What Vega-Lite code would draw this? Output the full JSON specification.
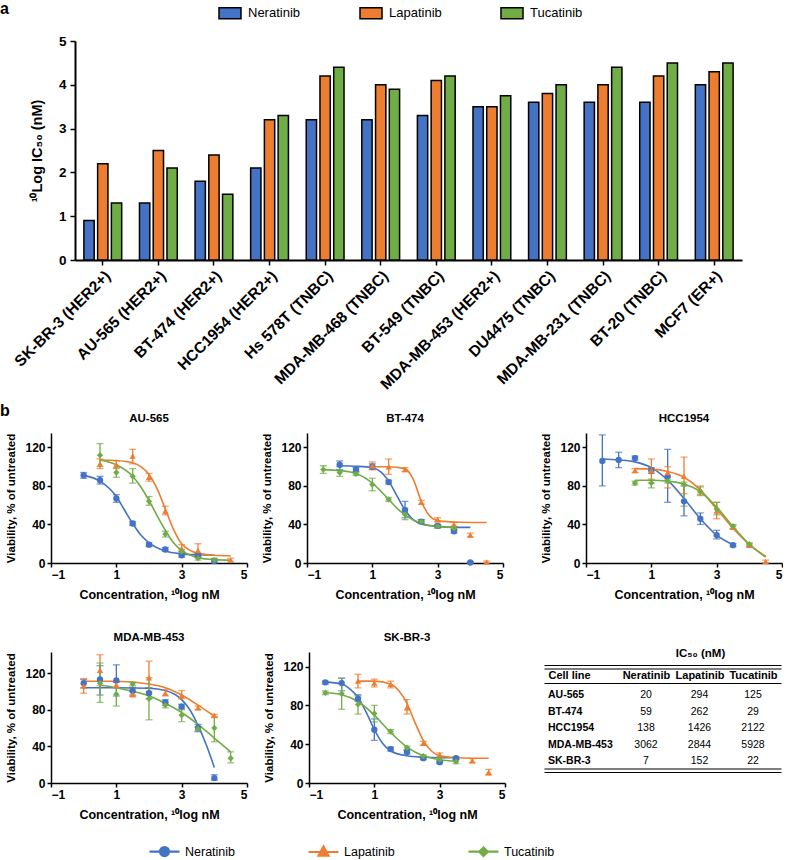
{
"$schema": "https://vega.github.io/schema/vega-lite/v6.json",
"background": "white",
"padding": {"left": 0, "top": 1, "right": 0, "bottom": 0},
"config": {
  "font": "Liberation Sans",
  "view": {"stroke": null},
  "title": {"fontSize": 11.5, "fontWeight": "bold", "color": "black", "offset": 9},
  "axis": {"grid": false, "domainColor": "black", "domainWidth": 1.5, "tickColor": "black", "tickWidth": 1.5, "tickSize": 4, "labelColor": "black", "labelFontWeight": "bold", "labelFontSize": 12, "labelPadding": 2, "titleColor": "black", "titleFontWeight": "bold", "titleFontSize": 12.5, "titlePadding": 8},
  "legend": {"labelColor": "black", "labelFont": "Liberation Sans"}
},
"datasets": {
  "bars": [
    {"cell":"SK-BR-3 (HER2+)","drug":"Neratinib","v":0.9},{"cell":"SK-BR-3 (HER2+)","drug":"Lapatinib","v":2.2},{"cell":"SK-BR-3 (HER2+)","drug":"Tucatinib","v":1.3},
    {"cell":"AU-565 (HER2+)","drug":"Neratinib","v":1.3},{"cell":"AU-565 (HER2+)","drug":"Lapatinib","v":2.5},{"cell":"AU-565 (HER2+)","drug":"Tucatinib","v":2.1},
    {"cell":"BT-474 (HER2+)","drug":"Neratinib","v":1.8},{"cell":"BT-474 (HER2+)","drug":"Lapatinib","v":2.4},{"cell":"BT-474 (HER2+)","drug":"Tucatinib","v":1.5},
    {"cell":"HCC1954 (HER2+)","drug":"Neratinib","v":2.1},{"cell":"HCC1954 (HER2+)","drug":"Lapatinib","v":3.2},{"cell":"HCC1954 (HER2+)","drug":"Tucatinib","v":3.3},
    {"cell":"Hs 578T (TNBC)","drug":"Neratinib","v":3.2},{"cell":"Hs 578T (TNBC)","drug":"Lapatinib","v":4.2},{"cell":"Hs 578T (TNBC)","drug":"Tucatinib","v":4.4},
    {"cell":"MDA-MB-468 (TNBC)","drug":"Neratinib","v":3.2},{"cell":"MDA-MB-468 (TNBC)","drug":"Lapatinib","v":4.0},{"cell":"MDA-MB-468 (TNBC)","drug":"Tucatinib","v":3.9},
    {"cell":"BT-549 (TNBC)","drug":"Neratinib","v":3.3},{"cell":"BT-549 (TNBC)","drug":"Lapatinib","v":4.1},{"cell":"BT-549 (TNBC)","drug":"Tucatinib","v":4.2},
    {"cell":"MDA-MB-453 (HER2+)","drug":"Neratinib","v":3.5},{"cell":"MDA-MB-453 (HER2+)","drug":"Lapatinib","v":3.5},{"cell":"MDA-MB-453 (HER2+)","drug":"Tucatinib","v":3.75},
    {"cell":"DU4475 (TNBC)","drug":"Neratinib","v":3.6},{"cell":"DU4475 (TNBC)","drug":"Lapatinib","v":3.8},{"cell":"DU4475 (TNBC)","drug":"Tucatinib","v":4.0},
    {"cell":"MDA-MB-231 (TNBC)","drug":"Neratinib","v":3.6},{"cell":"MDA-MB-231 (TNBC)","drug":"Lapatinib","v":4.0},{"cell":"MDA-MB-231 (TNBC)","drug":"Tucatinib","v":4.4},
    {"cell":"BT-20 (TNBC)","drug":"Neratinib","v":3.6},{"cell":"BT-20 (TNBC)","drug":"Lapatinib","v":4.2},{"cell":"BT-20 (TNBC)","drug":"Tucatinib","v":4.5},
    {"cell":"MCF7 (ER+)","drug":"Neratinib","v":4.0},{"cell":"MCF7 (ER+)","drug":"Lapatinib","v":4.3},{"cell":"MCF7 (ER+)","drug":"Tucatinib","v":4.5}
  ],
  "dr": [
    {"c":"AU-565","d":"Neratinib","x":0,"y":91,"lo":88,"hi":94},{"c":"AU-565","d":"Neratinib","x":0.5,"y":86,"lo":82,"hi":90},{"c":"AU-565","d":"Neratinib","x":1,"y":67,"lo":63,"hi":71},{"c":"AU-565","d":"Neratinib","x":1.5,"y":41,"lo":39,"hi":43},{"c":"AU-565","d":"Neratinib","x":2,"y":19,"lo":17,"hi":21},{"c":"AU-565","d":"Neratinib","x":2.5,"y":14,"lo":12,"hi":16},{"c":"AU-565","d":"Neratinib","x":3,"y":8,"lo":6,"hi":10},{"c":"AU-565","d":"Neratinib","x":3.5,"y":8,"lo":6,"hi":10},{"c":"AU-565","d":"Neratinib","x":4,"y":2,"lo":0,"hi":4},
    {"c":"AU-565","d":"Lapatinib","x":0.5,"y":103,"lo":98,"hi":108},{"c":"AU-565","d":"Lapatinib","x":1,"y":102,"lo":98,"hi":106},{"c":"AU-565","d":"Lapatinib","x":1.5,"y":111,"lo":103,"hi":118},{"c":"AU-565","d":"Lapatinib","x":2,"y":89,"lo":85,"hi":93},{"c":"AU-565","d":"Lapatinib","x":2.5,"y":54,"lo":50,"hi":59},{"c":"AU-565","d":"Lapatinib","x":3,"y":15,"lo":12,"hi":19},{"c":"AU-565","d":"Lapatinib","x":3.5,"y":13,"lo":8,"hi":20},{"c":"AU-565","d":"Lapatinib","x":4.5,"y":3,"lo":1,"hi":5},
    {"c":"AU-565","d":"Tucatinib","x":0.5,"y":112,"lo":100,"hi":124},{"c":"AU-565","d":"Tucatinib","x":1,"y":94,"lo":89,"hi":99},{"c":"AU-565","d":"Tucatinib","x":1.5,"y":90,"lo":83,"hi":98},{"c":"AU-565","d":"Tucatinib","x":2,"y":64,"lo":60,"hi":69},{"c":"AU-565","d":"Tucatinib","x":2.5,"y":30,"lo":27,"hi":33},{"c":"AU-565","d":"Tucatinib","x":3,"y":12,"lo":10,"hi":14},{"c":"AU-565","d":"Tucatinib","x":3.5,"y":5,"lo":3,"hi":7},{"c":"AU-565","d":"Tucatinib","x":4,"y":3,"lo":1,"hi":5},
    {"c":"BT-474","d":"Neratinib","x":0,"y":102,"lo":97,"hi":106},{"c":"BT-474","d":"Neratinib","x":0.5,"y":97,"lo":95,"hi":99},{"c":"BT-474","d":"Neratinib","x":1,"y":100,"lo":97,"hi":103},{"c":"BT-474","d":"Neratinib","x":1.5,"y":84,"lo":82,"hi":86},{"c":"BT-474","d":"Neratinib","x":2,"y":55,"lo":47,"hi":64},{"c":"BT-474","d":"Neratinib","x":2.5,"y":43,"lo":41,"hi":45},{"c":"BT-474","d":"Neratinib","x":3,"y":38.5,"lo":37,"hi":40},{"c":"BT-474","d":"Neratinib","x":3.5,"y":33,"lo":31,"hi":35},{"c":"BT-474","d":"Neratinib","x":4,"y":0.5,"lo":0,"hi":1.5},
    {"c":"BT-474","d":"Lapatinib","x":1,"y":101,"lo":97,"hi":105},{"c":"BT-474","d":"Lapatinib","x":1.5,"y":100,"lo":92,"hi":108},{"c":"BT-474","d":"Lapatinib","x":2,"y":97,"lo":95,"hi":99},{"c":"BT-474","d":"Lapatinib","x":2.5,"y":63,"lo":61,"hi":65},{"c":"BT-474","d":"Lapatinib","x":3,"y":45,"lo":43,"hi":47},{"c":"BT-474","d":"Lapatinib","x":3.5,"y":40,"lo":38,"hi":42},{"c":"BT-474","d":"Lapatinib","x":4,"y":29,"lo":27,"hi":31},{"c":"BT-474","d":"Lapatinib","x":4.5,"y":1,"lo":0,"hi":2},
    {"c":"BT-474","d":"Tucatinib","x":-0.5,"y":97,"lo":93,"hi":101},{"c":"BT-474","d":"Tucatinib","x":0,"y":94,"lo":90,"hi":100},{"c":"BT-474","d":"Tucatinib","x":0.5,"y":92.5,"lo":91,"hi":94},{"c":"BT-474","d":"Tucatinib","x":1,"y":81.5,"lo":75,"hi":88},{"c":"BT-474","d":"Tucatinib","x":1.5,"y":66,"lo":64,"hi":68},{"c":"BT-474","d":"Tucatinib","x":2,"y":50.5,"lo":45,"hi":57},{"c":"BT-474","d":"Tucatinib","x":2.5,"y":43,"lo":41,"hi":45},{"c":"BT-474","d":"Tucatinib","x":3,"y":38,"lo":36,"hi":40},{"c":"BT-474","d":"Tucatinib","x":3.5,"y":36,"lo":34,"hi":38},
    {"c":"HCC1954","d":"Neratinib","x":-0.5,"y":106,"lo":80,"hi":133},{"c":"HCC1954","d":"Neratinib","x":0,"y":107,"lo":99,"hi":115},{"c":"HCC1954","d":"Neratinib","x":0.5,"y":109,"lo":107,"hi":111},{"c":"HCC1954","d":"Neratinib","x":1,"y":96,"lo":93,"hi":99},{"c":"HCC1954","d":"Neratinib","x":1.5,"y":90,"lo":63,"hi":118},{"c":"HCC1954","d":"Neratinib","x":2,"y":64,"lo":49,"hi":80},{"c":"HCC1954","d":"Neratinib","x":2.5,"y":46,"lo":40,"hi":52},{"c":"HCC1954","d":"Neratinib","x":3,"y":29,"lo":25,"hi":34},{"c":"HCC1954","d":"Neratinib","x":3.5,"y":18.5,"lo":17,"hi":20},
    {"c":"HCC1954","d":"Lapatinib","x":0.5,"y":96,"lo":94,"hi":98},{"c":"HCC1954","d":"Lapatinib","x":1,"y":96,"lo":83,"hi":108},{"c":"HCC1954","d":"Lapatinib","x":1.5,"y":94,"lo":78,"hi":100},{"c":"HCC1954","d":"Lapatinib","x":2,"y":90,"lo":72,"hi":110},{"c":"HCC1954","d":"Lapatinib","x":2.5,"y":75,"lo":71,"hi":80},{"c":"HCC1954","d":"Lapatinib","x":3,"y":54,"lo":46,"hi":63},{"c":"HCC1954","d":"Lapatinib","x":3.5,"y":37,"lo":35,"hi":39},{"c":"HCC1954","d":"Lapatinib","x":4,"y":18.5,"lo":17,"hi":20},{"c":"HCC1954","d":"Lapatinib","x":4.5,"y":1.5,"lo":0,"hi":3},
    {"c":"HCC1954","d":"Tucatinib","x":0.5,"y":83,"lo":81,"hi":85},{"c":"HCC1954","d":"Tucatinib","x":1,"y":83,"lo":78,"hi":87},{"c":"HCC1954","d":"Tucatinib","x":1.5,"y":85,"lo":83,"hi":87},{"c":"HCC1954","d":"Tucatinib","x":2,"y":81.5,"lo":59,"hi":84},{"c":"HCC1954","d":"Tucatinib","x":2.5,"y":74.6,"lo":70,"hi":79},{"c":"HCC1954","d":"Tucatinib","x":3,"y":56,"lo":50,"hi":63},{"c":"HCC1954","d":"Tucatinib","x":3.5,"y":38,"lo":36,"hi":40},{"c":"HCC1954","d":"Tucatinib","x":4,"y":19.6,"lo":18,"hi":21},
    {"c":"MDA-MB-453","d":"Neratinib","x":0,"y":109,"lo":104,"hi":113},{"c":"MDA-MB-453","d":"Neratinib","x":0.5,"y":113,"lo":96,"hi":128},{"c":"MDA-MB-453","d":"Neratinib","x":1,"y":112,"lo":95,"hi":129},{"c":"MDA-MB-453","d":"Neratinib","x":1.5,"y":100.5,"lo":96,"hi":104},{"c":"MDA-MB-453","d":"Neratinib","x":2,"y":98,"lo":92,"hi":104},{"c":"MDA-MB-453","d":"Neratinib","x":2.5,"y":88,"lo":85,"hi":91},{"c":"MDA-MB-453","d":"Neratinib","x":3,"y":83.4,"lo":81,"hi":86},{"c":"MDA-MB-453","d":"Neratinib","x":3.5,"y":60,"lo":56,"hi":64},{"c":"MDA-MB-453","d":"Neratinib","x":4,"y":5.4,"lo":3,"hi":9},
    {"c":"MDA-MB-453","d":"Lapatinib","x":0,"y":106,"lo":98,"hi":114},{"c":"MDA-MB-453","d":"Lapatinib","x":0.5,"y":123,"lo":106,"hi":140},{"c":"MDA-MB-453","d":"Lapatinib","x":1,"y":107,"lo":104,"hi":110},{"c":"MDA-MB-453","d":"Lapatinib","x":1.5,"y":97,"lo":94,"hi":100},{"c":"MDA-MB-453","d":"Lapatinib","x":2,"y":115,"lo":100,"hi":133},{"c":"MDA-MB-453","d":"Lapatinib","x":2.5,"y":98,"lo":95,"hi":102},{"c":"MDA-MB-453","d":"Lapatinib","x":3,"y":95.4,"lo":92,"hi":101},{"c":"MDA-MB-453","d":"Lapatinib","x":3.5,"y":82,"lo":80,"hi":84},{"c":"MDA-MB-453","d":"Lapatinib","x":4,"y":73.6,"lo":72,"hi":75},
    {"c":"MDA-MB-453","d":"Tucatinib","x":0.5,"y":109,"lo":88,"hi":131},{"c":"MDA-MB-453","d":"Tucatinib","x":1,"y":97,"lo":84,"hi":110},{"c":"MDA-MB-453","d":"Tucatinib","x":1.5,"y":108,"lo":106,"hi":110},{"c":"MDA-MB-453","d":"Tucatinib","x":2,"y":92,"lo":69,"hi":115},{"c":"MDA-MB-453","d":"Tucatinib","x":2.5,"y":85,"lo":82,"hi":88},{"c":"MDA-MB-453","d":"Tucatinib","x":3,"y":74,"lo":67,"hi":80},{"c":"MDA-MB-453","d":"Tucatinib","x":3.5,"y":59,"lo":57,"hi":61},{"c":"MDA-MB-453","d":"Tucatinib","x":4,"y":60,"lo":45,"hi":72},{"c":"MDA-MB-453","d":"Tucatinib","x":4.5,"y":27,"lo":22,"hi":34},
    {"c":"SK-BR-3","d":"Neratinib","x":-0.5,"y":103.7,"lo":102,"hi":105},{"c":"SK-BR-3","d":"Neratinib","x":0,"y":103,"lo":95,"hi":108},{"c":"SK-BR-3","d":"Neratinib","x":0.5,"y":87,"lo":84,"hi":91},{"c":"SK-BR-3","d":"Neratinib","x":1,"y":55,"lo":44,"hi":66},{"c":"SK-BR-3","d":"Neratinib","x":1.5,"y":35,"lo":33,"hi":37},{"c":"SK-BR-3","d":"Neratinib","x":2,"y":32,"lo":30,"hi":34},{"c":"SK-BR-3","d":"Neratinib","x":2.5,"y":25.6,"lo":24,"hi":27},{"c":"SK-BR-3","d":"Neratinib","x":3,"y":21.5,"lo":20,"hi":23},{"c":"SK-BR-3","d":"Neratinib","x":3.5,"y":25.6,"lo":24,"hi":27},
    {"c":"SK-BR-3","d":"Lapatinib","x":0.5,"y":105,"lo":98,"hi":112},{"c":"SK-BR-3","d":"Lapatinib","x":1,"y":103,"lo":99,"hi":107},{"c":"SK-BR-3","d":"Lapatinib","x":1.5,"y":101.7,"lo":98,"hi":105},{"c":"SK-BR-3","d":"Lapatinib","x":2,"y":77.5,"lo":71,"hi":86},{"c":"SK-BR-3","d":"Lapatinib","x":2.5,"y":41,"lo":39,"hi":43},{"c":"SK-BR-3","d":"Lapatinib","x":3,"y":29,"lo":27,"hi":31},{"c":"SK-BR-3","d":"Lapatinib","x":4,"y":23,"lo":21,"hi":25},{"c":"SK-BR-3","d":"Lapatinib","x":4.5,"y":11,"lo":8,"hi":14},
    {"c":"SK-BR-3","d":"Tucatinib","x":-0.5,"y":93,"lo":91,"hi":95},{"c":"SK-BR-3","d":"Tucatinib","x":0,"y":92,"lo":76,"hi":108},{"c":"SK-BR-3","d":"Tucatinib","x":0.5,"y":81,"lo":71,"hi":90},{"c":"SK-BR-3","d":"Tucatinib","x":1,"y":71.6,"lo":63,"hi":80},{"c":"SK-BR-3","d":"Tucatinib","x":1.5,"y":53,"lo":51,"hi":55},{"c":"SK-BR-3","d":"Tucatinib","x":2,"y":36.3,"lo":34,"hi":38},{"c":"SK-BR-3","d":"Tucatinib","x":2.5,"y":27.7,"lo":26,"hi":29},{"c":"SK-BR-3","d":"Tucatinib","x":3,"y":24,"lo":22,"hi":26},{"c":"SK-BR-3","d":"Tucatinib","x":3.5,"y":22,"lo":20,"hi":24}
  ],
  "cv": [
    {"c":"AU-565","d":"Neratinib","x":0,"y":91},{"c":"AU-565","d":"Neratinib","x":0.5,"y":85},{"c":"AU-565","d":"Neratinib","x":1,"y":69},{"c":"AU-565","d":"Neratinib","x":1.25,"y":55},{"c":"AU-565","d":"Neratinib","x":1.5,"y":41},{"c":"AU-565","d":"Neratinib","x":1.75,"y":29},{"c":"AU-565","d":"Neratinib","x":2,"y":21},{"c":"AU-565","d":"Neratinib","x":2.5,"y":12.5},{"c":"AU-565","d":"Neratinib","x":3,"y":9.5},{"c":"AU-565","d":"Neratinib","x":3.5,"y":8.5},{"c":"AU-565","d":"Neratinib","x":4,"y":8},
    {"c":"AU-565","d":"Lapatinib","x":0.5,"y":107},{"c":"AU-565","d":"Lapatinib","x":1,"y":106.5},{"c":"AU-565","d":"Lapatinib","x":1.5,"y":104},{"c":"AU-565","d":"Lapatinib","x":1.75,"y":100},{"c":"AU-565","d":"Lapatinib","x":2,"y":92},{"c":"AU-565","d":"Lapatinib","x":2.25,"y":77},{"c":"AU-565","d":"Lapatinib","x":2.5,"y":56},{"c":"AU-565","d":"Lapatinib","x":2.75,"y":35},{"c":"AU-565","d":"Lapatinib","x":3,"y":20},{"c":"AU-565","d":"Lapatinib","x":3.5,"y":10},{"c":"AU-565","d":"Lapatinib","x":4,"y":8},{"c":"AU-565","d":"Lapatinib","x":4.5,"y":7.5},
    {"c":"AU-565","d":"Tucatinib","x":0.5,"y":107},{"c":"AU-565","d":"Tucatinib","x":1,"y":102},{"c":"AU-565","d":"Tucatinib","x":1.5,"y":90},{"c":"AU-565","d":"Tucatinib","x":1.75,"y":79},{"c":"AU-565","d":"Tucatinib","x":2,"y":65},{"c":"AU-565","d":"Tucatinib","x":2.25,"y":49},{"c":"AU-565","d":"Tucatinib","x":2.5,"y":34},{"c":"AU-565","d":"Tucatinib","x":2.75,"y":21},{"c":"AU-565","d":"Tucatinib","x":3,"y":13},{"c":"AU-565","d":"Tucatinib","x":3.5,"y":5.5},{"c":"AU-565","d":"Tucatinib","x":4,"y":3.5},{"c":"AU-565","d":"Tucatinib","x":4.5,"y":3},
    {"c":"BT-474","d":"Neratinib","x":0,"y":101},{"c":"BT-474","d":"Neratinib","x":0.5,"y":100.5},{"c":"BT-474","d":"Neratinib","x":1,"y":99},{"c":"BT-474","d":"Neratinib","x":1.25,"y":95},{"c":"BT-474","d":"Neratinib","x":1.5,"y":85},{"c":"BT-474","d":"Neratinib","x":1.75,"y":70},{"c":"BT-474","d":"Neratinib","x":2,"y":55},{"c":"BT-474","d":"Neratinib","x":2.25,"y":45},{"c":"BT-474","d":"Neratinib","x":2.5,"y":40.5},{"c":"BT-474","d":"Neratinib","x":3,"y":38},{"c":"BT-474","d":"Neratinib","x":3.5,"y":37},{"c":"BT-474","d":"Neratinib","x":4,"y":37},
    {"c":"BT-474","d":"Lapatinib","x":1,"y":100},{"c":"BT-474","d":"Lapatinib","x":1.5,"y":100},{"c":"BT-474","d":"Lapatinib","x":2,"y":98},{"c":"BT-474","d":"Lapatinib","x":2.25,"y":87},{"c":"BT-474","d":"Lapatinib","x":2.5,"y":64},{"c":"BT-474","d":"Lapatinib","x":2.75,"y":49},{"c":"BT-474","d":"Lapatinib","x":3,"y":44},{"c":"BT-474","d":"Lapatinib","x":3.5,"y":42.5},{"c":"BT-474","d":"Lapatinib","x":4,"y":42},{"c":"BT-474","d":"Lapatinib","x":4.5,"y":42},
    {"c":"BT-474","d":"Tucatinib","x":-0.5,"y":97},{"c":"BT-474","d":"Tucatinib","x":0,"y":96},{"c":"BT-474","d":"Tucatinib","x":0.5,"y":93},{"c":"BT-474","d":"Tucatinib","x":1,"y":83},{"c":"BT-474","d":"Tucatinib","x":1.5,"y":66},{"c":"BT-474","d":"Tucatinib","x":1.75,"y":57},{"c":"BT-474","d":"Tucatinib","x":2,"y":50},{"c":"BT-474","d":"Tucatinib","x":2.5,"y":41},{"c":"BT-474","d":"Tucatinib","x":3,"y":38},{"c":"BT-474","d":"Tucatinib","x":3.5,"y":37},
    {"c":"HCC1954","d":"Neratinib","x":-0.5,"y":108},{"c":"HCC1954","d":"Neratinib","x":0,"y":107},{"c":"HCC1954","d":"Neratinib","x":0.5,"y":105},{"c":"HCC1954","d":"Neratinib","x":1,"y":99},{"c":"HCC1954","d":"Neratinib","x":1.5,"y":86},{"c":"HCC1954","d":"Neratinib","x":2,"y":67},{"c":"HCC1954","d":"Neratinib","x":2.5,"y":46},{"c":"HCC1954","d":"Neratinib","x":3,"y":29},{"c":"HCC1954","d":"Neratinib","x":3.5,"y":19},
    {"c":"HCC1954","d":"Lapatinib","x":0.5,"y":98},{"c":"HCC1954","d":"Lapatinib","x":1,"y":97.5},{"c":"HCC1954","d":"Lapatinib","x":1.5,"y":95},{"c":"HCC1954","d":"Lapatinib","x":2,"y":89},{"c":"HCC1954","d":"Lapatinib","x":2.5,"y":76},{"c":"HCC1954","d":"Lapatinib","x":3,"y":56},{"c":"HCC1954","d":"Lapatinib","x":3.5,"y":36},{"c":"HCC1954","d":"Lapatinib","x":4,"y":19},{"c":"HCC1954","d":"Lapatinib","x":4.5,"y":7},
    {"c":"HCC1954","d":"Tucatinib","x":0.5,"y":86},{"c":"HCC1954","d":"Tucatinib","x":1,"y":86},{"c":"HCC1954","d":"Tucatinib","x":1.5,"y":85},{"c":"HCC1954","d":"Tucatinib","x":2,"y":82},{"c":"HCC1954","d":"Tucatinib","x":2.5,"y":74},{"c":"HCC1954","d":"Tucatinib","x":3,"y":58},{"c":"HCC1954","d":"Tucatinib","x":3.5,"y":38},{"c":"HCC1954","d":"Tucatinib","x":4,"y":19.5},{"c":"HCC1954","d":"Tucatinib","x":4.5,"y":6},
    {"c":"MDA-MB-453","d":"Neratinib","x":0,"y":104},{"c":"MDA-MB-453","d":"Neratinib","x":1,"y":104},{"c":"MDA-MB-453","d":"Neratinib","x":2,"y":103.5},{"c":"MDA-MB-453","d":"Neratinib","x":2.5,"y":101},{"c":"MDA-MB-453","d":"Neratinib","x":3,"y":91},{"c":"MDA-MB-453","d":"Neratinib","x":3.25,"y":80},{"c":"MDA-MB-453","d":"Neratinib","x":3.5,"y":63},{"c":"MDA-MB-453","d":"Neratinib","x":3.75,"y":42},{"c":"MDA-MB-453","d":"Neratinib","x":4,"y":17},
    {"c":"MDA-MB-453","d":"Lapatinib","x":0,"y":111},{"c":"MDA-MB-453","d":"Lapatinib","x":1,"y":111},{"c":"MDA-MB-453","d":"Lapatinib","x":2,"y":108},{"c":"MDA-MB-453","d":"Lapatinib","x":2.5,"y":104},{"c":"MDA-MB-453","d":"Lapatinib","x":3,"y":96},{"c":"MDA-MB-453","d":"Lapatinib","x":3.5,"y":85},{"c":"MDA-MB-453","d":"Lapatinib","x":4,"y":73},
    {"c":"MDA-MB-453","d":"Tucatinib","x":0.5,"y":107},{"c":"MDA-MB-453","d":"Tucatinib","x":1,"y":104},{"c":"MDA-MB-453","d":"Tucatinib","x":1.5,"y":100},{"c":"MDA-MB-453","d":"Tucatinib","x":2,"y":95},{"c":"MDA-MB-453","d":"Tucatinib","x":2.5,"y":87},{"c":"MDA-MB-453","d":"Tucatinib","x":3,"y":77},{"c":"MDA-MB-453","d":"Tucatinib","x":3.5,"y":64},{"c":"MDA-MB-453","d":"Tucatinib","x":4,"y":49},{"c":"MDA-MB-453","d":"Tucatinib","x":4.5,"y":34},
    {"c":"SK-BR-3","d":"Neratinib","x":-0.5,"y":104},{"c":"SK-BR-3","d":"Neratinib","x":0,"y":102},{"c":"SK-BR-3","d":"Neratinib","x":0.25,"y":97},{"c":"SK-BR-3","d":"Neratinib","x":0.5,"y":88},{"c":"SK-BR-3","d":"Neratinib","x":0.75,"y":73},{"c":"SK-BR-3","d":"Neratinib","x":1,"y":55},{"c":"SK-BR-3","d":"Neratinib","x":1.25,"y":41},{"c":"SK-BR-3","d":"Neratinib","x":1.5,"y":33},{"c":"SK-BR-3","d":"Neratinib","x":2,"y":28},{"c":"SK-BR-3","d":"Neratinib","x":2.5,"y":26.5},{"c":"SK-BR-3","d":"Neratinib","x":3,"y":26},{"c":"SK-BR-3","d":"Neratinib","x":3.5,"y":26},
    {"c":"SK-BR-3","d":"Lapatinib","x":0.5,"y":105},{"c":"SK-BR-3","d":"Lapatinib","x":1,"y":105},{"c":"SK-BR-3","d":"Lapatinib","x":1.5,"y":102},{"c":"SK-BR-3","d":"Lapatinib","x":1.75,"y":95},{"c":"SK-BR-3","d":"Lapatinib","x":2,"y":82},{"c":"SK-BR-3","d":"Lapatinib","x":2.25,"y":62},{"c":"SK-BR-3","d":"Lapatinib","x":2.5,"y":44},{"c":"SK-BR-3","d":"Lapatinib","x":2.75,"y":33},{"c":"SK-BR-3","d":"Lapatinib","x":3,"y":28},{"c":"SK-BR-3","d":"Lapatinib","x":3.5,"y":26},{"c":"SK-BR-3","d":"Lapatinib","x":4,"y":25.5},{"c":"SK-BR-3","d":"Lapatinib","x":4.5,"y":25.5},
    {"c":"SK-BR-3","d":"Tucatinib","x":-0.5,"y":93},{"c":"SK-BR-3","d":"Tucatinib","x":0,"y":91},{"c":"SK-BR-3","d":"Tucatinib","x":0.5,"y":84},{"c":"SK-BR-3","d":"Tucatinib","x":1,"y":70},{"c":"SK-BR-3","d":"Tucatinib","x":1.5,"y":52},{"c":"SK-BR-3","d":"Tucatinib","x":2,"y":37},{"c":"SK-BR-3","d":"Tucatinib","x":2.5,"y":28},{"c":"SK-BR-3","d":"Tucatinib","x":3,"y":24},{"c":"SK-BR-3","d":"Tucatinib","x":3.5,"y":22.5}
  ],
  "tbl": [
    {"cell":"AU-565","drug":"Neratinib","ic50":20},{"cell":"AU-565","drug":"Lapatinib","ic50":294},{"cell":"AU-565","drug":"Tucatinib","ic50":125},
    {"cell":"BT-474","drug":"Neratinib","ic50":59},{"cell":"BT-474","drug":"Lapatinib","ic50":262},{"cell":"BT-474","drug":"Tucatinib","ic50":29},
    {"cell":"HCC1954","drug":"Neratinib","ic50":138},{"cell":"HCC1954","drug":"Lapatinib","ic50":1426},{"cell":"HCC1954","drug":"Tucatinib","ic50":2122},
    {"cell":"MDA-MB-453","drug":"Neratinib","ic50":3062},{"cell":"MDA-MB-453","drug":"Lapatinib","ic50":2844},{"cell":"MDA-MB-453","drug":"Tucatinib","ic50":5928},
    {"cell":"SK-BR-3","drug":"Neratinib","ic50":7},{"cell":"SK-BR-3","drug":"Lapatinib","ic50":152},{"cell":"SK-BR-3","drug":"Tucatinib","ic50":22}
  ],
  "drugs": [{"drug":"Neratinib"},{"drug":"Lapatinib"},{"drug":"Tucatinib"}],
  "none": []
},
"resolve": {"scale": {"color": "independent", "shape": "independent", "fill": "independent", "stroke": "independent"}},
"spacing": 9,
"vconcat": [
  {
    "title": {"text": "a", "anchor": "start", "frame": "group", "offset": -16, "fontSize": 16, "fontWeight": "bold"},
    "spacing": 10,
    "hconcat": [
      {"width": 1, "height": 1, "data": {"name": "none"}, "mark": {"type": "point"}},
      {
        "width": 667, "height": 219,
        "data": {"name": "bars"},
        "mark": {"type": "bar", "stroke": "black", "strokeWidth": 1.5},
        "encoding": {
          "x": {"field": "cell", "type": "nominal", "sort": null, "scale": {"paddingInner": 0.32, "paddingOuter": 0.16}, "axis": {"title": null, "labelAngle": -45, "labelFontSize": 15.5, "tickSize": 5, "labelPadding": 3, "domainWidth": 2, "labelLimit": 300}},
          "xOffset": {"field": "drug", "type": "nominal", "sort": ["Neratinib", "Lapatinib", "Tucatinib"], "scale": {"paddingInner": 0.25}},
          "y": {"field": "v", "type": "quantitative", "scale": {"domain": [0, 5], "nice": false}, "axis": {"values": [0, 1, 2, 3, 4, 5], "title": "¹⁰Log IC₅₀ (nM)", "labelFontSize": 13.5, "titleFontSize": 14.5, "tickSize": 5, "labelPadding": 4, "titlePadding": 14, "domainWidth": 2}},
          "color": {"field": "drug", "type": "nominal", "scale": {"domain": ["Neratinib", "Lapatinib", "Tucatinib"], "range": ["#4472C4", "#ED7D31", "#70AD47"]},
            "legend": {"orient": "none", "legendX": 218, "legendY": -40, "direction": "horizontal", "title": null, "symbolType": "M-1,-0.5H1V0.5H-1Z", "symbolSize": 484, "symbolStrokeColor": "black", "symbolStrokeWidth": 1.5, "labelFontSize": 13, "columnPadding": 56, "labelOffset": 6}}
        }
      }
    ]
  },
  {
    "title": {"text": "b", "anchor": "start", "frame": "group", "fontSize": 16, "fontWeight": "bold", "offset": -6},
    "spacing": 4,
    "hconcat": [
      {"width": 1, "height": 1, "data": {"name": "none"}, "mark": {"type": "point"}},
      {"spacing": 36, "hconcat": [
        {"spacing": 13, "hconcat": [
          {"width": 196, "height": 130, "title": "AU-565",
           "layer": [
             {"data": {"name": "cv"}, "transform": [{"filter": "datum.c == 'AU-565'"}], "mark": {"type": "line", "interpolate": "monotone", "strokeWidth": 1.6},
              "encoding": {"x": {"field": "x", "type": "quantitative", "scale": {"domain": [-1, 5], "nice": false, "zero": false}, "axis": {"values": [-1, 0, 1, 2, 3, 4, 5], "title": "Concentration, ¹⁰log nM"}},
                "y": {"field": "y", "type": "quantitative", "scale": {"domain": [0, 135], "nice": false}, "axis": {"values": [0, 20, 40, 60, 80, 100, 120], "title": "Viability, % of untreated", "titleFontSize": 11.5}},
                "color": {"field": "d", "type": "nominal", "scale": {"domain": ["Neratinib", "Lapatinib", "Tucatinib"], "range": ["#4472C4", "#ED7D31", "#70AD47"]}, "legend": null}}},
             {"data": {"name": "dr"}, "transform": [{"filter": "datum.c == 'AU-565'"}], "mark": {"type": "errorbar", "ticks": {"size": 7}, "thickness": 1.3},
              "encoding": {"x": {"field": "x", "type": "quantitative", "title": "Concentration, ¹⁰log nM"}, "y": {"field": "lo", "type": "quantitative", "title": "Viability, % of untreated"}, "y2": {"field": "hi"}, "color": {"field": "d", "type": "nominal", "legend": null}}},
             {"data": {"name": "dr"}, "transform": [{"filter": "datum.c == 'AU-565'"}], "mark": {"type": "point", "filled": true, "size": 40, "opacity": 1},
              "encoding": {"x": {"field": "x", "type": "quantitative", "title": "Concentration, ¹⁰log nM"}, "y": {"field": "y", "type": "quantitative", "title": "Viability, % of untreated"}, "color": {"field": "d", "type": "nominal", "legend": null},
                "shape": {"field": "d", "type": "nominal", "scale": {"domain": ["Neratinib", "Lapatinib", "Tucatinib"], "range": ["circle", "triangle-up", "diamond"]}, "legend": null}}}
           ]},
          {"width": 196, "height": 130, "title": "BT-474",
           "layer": [
             {"data": {"name": "cv"}, "transform": [{"filter": "datum.c == 'BT-474'"}], "mark": {"type": "line", "interpolate": "monotone", "strokeWidth": 1.6},
              "encoding": {"x": {"field": "x", "type": "quantitative", "scale": {"domain": [-1, 5], "nice": false, "zero": false}, "axis": {"values": [-1, 0, 1, 2, 3, 4, 5], "title": "Concentration, ¹⁰log nM"}},
                "y": {"field": "y", "type": "quantitative", "scale": {"domain": [0, 135], "nice": false}, "axis": {"values": [0, 20, 40, 60, 80, 100, 120], "title": "Viability, % of untreated", "titleFontSize": 11.5}},
                "color": {"field": "d", "type": "nominal", "scale": {"domain": ["Neratinib", "Lapatinib", "Tucatinib"], "range": ["#4472C4", "#ED7D31", "#70AD47"]}, "legend": null}}},
             {"data": {"name": "dr"}, "transform": [{"filter": "datum.c == 'BT-474'"}], "mark": {"type": "errorbar", "ticks": {"size": 7}, "thickness": 1.3},
              "encoding": {"x": {"field": "x", "type": "quantitative", "title": "Concentration, ¹⁰log nM"}, "y": {"field": "lo", "type": "quantitative", "title": "Viability, % of untreated"}, "y2": {"field": "hi"}, "color": {"field": "d", "type": "nominal", "legend": null}}},
             {"data": {"name": "dr"}, "transform": [{"filter": "datum.c == 'BT-474'"}], "mark": {"type": "point", "filled": true, "size": 40, "opacity": 1},
              "encoding": {"x": {"field": "x", "type": "quantitative", "title": "Concentration, ¹⁰log nM"}, "y": {"field": "y", "type": "quantitative", "title": "Viability, % of untreated"}, "color": {"field": "d", "type": "nominal", "legend": null},
                "shape": {"field": "d", "type": "nominal", "scale": {"domain": ["Neratinib", "Lapatinib", "Tucatinib"], "range": ["circle", "triangle-up", "diamond"]}, "legend": null}}}
           ]}
        ]},
        {"hconcat": [
          {"width": 196, "height": 130, "title": "HCC1954",
           "layer": [
             {"data": {"name": "cv"}, "transform": [{"filter": "datum.c == 'HCC1954'"}], "mark": {"type": "line", "interpolate": "monotone", "strokeWidth": 1.6},
              "encoding": {"x": {"field": "x", "type": "quantitative", "scale": {"domain": [-1, 5], "nice": false, "zero": false}, "axis": {"values": [-1, 0, 1, 2, 3, 4, 5], "title": "Concentration, ¹⁰log nM"}},
                "y": {"field": "y", "type": "quantitative", "scale": {"domain": [0, 135], "nice": false}, "axis": {"values": [0, 20, 40, 60, 80, 100, 120], "title": "Viability, % of untreated", "titleFontSize": 11.5}},
                "color": {"field": "d", "type": "nominal", "scale": {"domain": ["Neratinib", "Lapatinib", "Tucatinib"], "range": ["#4472C4", "#ED7D31", "#70AD47"]}, "legend": null}}},
             {"data": {"name": "dr"}, "transform": [{"filter": "datum.c == 'HCC1954'"}], "mark": {"type": "errorbar", "ticks": {"size": 7}, "thickness": 1.3},
              "encoding": {"x": {"field": "x", "type": "quantitative", "title": "Concentration, ¹⁰log nM"}, "y": {"field": "lo", "type": "quantitative", "title": "Viability, % of untreated"}, "y2": {"field": "hi"}, "color": {"field": "d", "type": "nominal", "legend": null}}},
             {"data": {"name": "dr"}, "transform": [{"filter": "datum.c == 'HCC1954'"}], "mark": {"type": "point", "filled": true, "size": 40, "opacity": 1},
              "encoding": {"x": {"field": "x", "type": "quantitative", "title": "Concentration, ¹⁰log nM"}, "y": {"field": "y", "type": "quantitative", "title": "Viability, % of untreated"}, "color": {"field": "d", "type": "nominal", "legend": null},
                "shape": {"field": "d", "type": "nominal", "scale": {"domain": ["Neratinib", "Lapatinib", "Tucatinib"], "range": ["circle", "triangle-up", "diamond"]}, "legend": null}}}
           ]}
        ]}
      ]}
    ]
  },
  {"width": 1, "height": 11.5, "data": {"name": "none"}, "mark": {"type": "point"}},
  {
    "spacing": 4,
    "hconcat": [
      {"width": 1, "height": 1, "data": {"name": "none"}, "mark": {"type": "point"}},
      {"spacing": 38, "hconcat": [
        {"spacing": 15, "hconcat": [
          {"width": 196, "height": 131, "title": "MDA-MB-453",
           "layer": [
             {"data": {"name": "cv"}, "transform": [{"filter": "datum.c == 'MDA-MB-453'"}], "mark": {"type": "line", "interpolate": "monotone", "strokeWidth": 1.6},
              "encoding": {"x": {"field": "x", "type": "quantitative", "scale": {"domain": [-1, 5], "nice": false, "zero": false}, "axis": {"values": [-1, 0, 1, 2, 3, 4, 5], "title": "Concentration, ¹⁰log nM"}},
                "y": {"field": "y", "type": "quantitative", "scale": {"domain": [0, 143], "nice": false}, "axis": {"values": [0, 20, 40, 60, 80, 100, 120, 140], "title": "Viability, % of untreated", "titleFontSize": 11.5}},
                "color": {"field": "d", "type": "nominal", "scale": {"domain": ["Neratinib", "Lapatinib", "Tucatinib"], "range": ["#4472C4", "#ED7D31", "#70AD47"]}, "legend": null}}},
             {"data": {"name": "dr"}, "transform": [{"filter": "datum.c == 'MDA-MB-453'"}], "mark": {"type": "errorbar", "ticks": {"size": 7}, "thickness": 1.3},
              "encoding": {"x": {"field": "x", "type": "quantitative", "title": "Concentration, ¹⁰log nM"}, "y": {"field": "lo", "type": "quantitative", "title": "Viability, % of untreated"}, "y2": {"field": "hi"}, "color": {"field": "d", "type": "nominal", "legend": null}}},
             {"data": {"name": "dr"}, "transform": [{"filter": "datum.c == 'MDA-MB-453'"}], "mark": {"type": "point", "filled": true, "size": 40, "opacity": 1},
              "encoding": {"x": {"field": "x", "type": "quantitative", "title": "Concentration, ¹⁰log nM"}, "y": {"field": "y", "type": "quantitative", "title": "Viability, % of untreated"}, "color": {"field": "d", "type": "nominal", "legend": null},
                "shape": {"field": "d", "type": "nominal", "scale": {"domain": ["Neratinib", "Lapatinib", "Tucatinib"], "range": ["circle", "triangle-up", "diamond"]}, "legend": null}}}
           ]},
          {"width": 196, "height": 131, "title": "SK-BR-3",
           "layer": [
             {"data": {"name": "cv"}, "transform": [{"filter": "datum.c == 'SK-BR-3'"}], "mark": {"type": "line", "interpolate": "monotone", "strokeWidth": 1.6},
              "encoding": {"x": {"field": "x", "type": "quantitative", "scale": {"domain": [-1, 5], "nice": false, "zero": false}, "axis": {"values": [-1, 0, 1, 2, 3, 4, 5], "title": "Concentration, ¹⁰log nM"}},
                "y": {"field": "y", "type": "quantitative", "scale": {"domain": [0, 135], "nice": false}, "axis": {"values": [0, 20, 40, 60, 80, 100, 120], "title": "Viability, % of untreated", "titleFontSize": 11.5}},
                "color": {"field": "d", "type": "nominal", "scale": {"domain": ["Neratinib", "Lapatinib", "Tucatinib"], "range": ["#4472C4", "#ED7D31", "#70AD47"]}, "legend": null}}},
             {"data": {"name": "dr"}, "transform": [{"filter": "datum.c == 'SK-BR-3'"}], "mark": {"type": "errorbar", "ticks": {"size": 7}, "thickness": 1.3},
              "encoding": {"x": {"field": "x", "type": "quantitative", "title": "Concentration, ¹⁰log nM"}, "y": {"field": "lo", "type": "quantitative", "title": "Viability, % of untreated"}, "y2": {"field": "hi"}, "color": {"field": "d", "type": "nominal", "legend": null}}},
             {"data": {"name": "dr"}, "transform": [{"filter": "datum.c == 'SK-BR-3'"}], "mark": {"type": "point", "filled": true, "size": 40, "opacity": 1},
              "encoding": {"x": {"field": "x", "type": "quantitative", "title": "Concentration, ¹⁰log nM"}, "y": {"field": "y", "type": "quantitative", "title": "Viability, % of untreated"}, "color": {"field": "d", "type": "nominal", "legend": null},
                "shape": {"field": "d", "type": "nominal", "scale": {"domain": ["Neratinib", "Lapatinib", "Tucatinib"], "range": ["circle", "triangle-up", "diamond"]}, "legend": null}}}
           ]}
        ]},
        {"hconcat": [
          {"width": 237, "height": 120,
           "title": {"text": "IC₅₀ (nM)", "fontSize": 11.5, "dx": 38, "offset": -7},
           "data": {"name": "tbl"},
           "resolve": {"scale": {"x": "independent"}, "axis": {"x": "independent"}},
           "layer": [
             {"mark": {"type": "text", "fontSize": 10.5, "color": "black"},
              "encoding": {
                "x": {"field": "drug", "type": "nominal", "scale": {"type": "point", "domain": ["Cell line", "Neratinib", "Lapatinib", "Tucatinib"], "range": [48.5, 209], "padding": 0},
                  "axis": {"orient": "top", "offset": -31, "title": null, "ticks": false, "domain": false, "labelAngle": 0, "labelFontSize": 11, "labelPadding": 3,
                    "labelAlign": {"condition": {"test": "datum.value === 'Cell line'", "value": "left"}, "value": "center"},
                    "labelOffset": {"condition": {"test": "datum.value === 'Cell line'", "value": -44.5}, "value": 0}}},
                "y": {"field": "cell", "type": "nominal", "scale": {"type": "point", "domain": ["AU-565", "BT-474", "HCC1954", "MDA-MB-453", "SK-BR-3"], "range": [43, 109], "padding": 0}, "axis": null},
                "text": {"field": "ic50", "type": "quantitative"}}},
             {"transform": [{"filter": "datum.drug === 'Neratinib'"}],
              "mark": {"type": "text", "fontSize": 10.5, "fontWeight": "bold", "align": "left", "dx": -44.5, "color": "black"},
              "encoding": {
                "x": {"datum": "Cell line", "type": "nominal", "scale": {"type": "point", "domain": ["Cell line", "Neratinib", "Lapatinib", "Tucatinib"], "range": [48.5, 209], "padding": 0}, "axis": null},
                "y": {"field": "cell", "type": "nominal", "axis": null},
                "text": {"field": "cell", "type": "nominal"}}},
             {"transform": [{"filter": "datum.drug === 'Neratinib' && datum.cell === 'AU-565'"}],
              "mark": {"type": "text", "opacity": 0},
              "encoding": {
                "x": {"datum": "line", "type": "nominal", "axis": {"orient": "top", "offset": -13, "title": null, "ticks": false, "labels": false, "domainWidth": 1.2}},
                "y": {"field": "cell", "type": "nominal", "axis": null},
                "text": {"field": "cell", "type": "nominal"}}},
             {"transform": [{"filter": "datum.drug === 'Neratinib' && datum.cell === 'AU-565'"}],
              "mark": {"type": "text", "opacity": 0},
              "encoding": {
                "x": {"datum": "line", "type": "nominal", "axis": {"orient": "top", "offset": -16.5, "title": null, "ticks": false, "labels": false, "domainWidth": 1.2}},
                "y": {"field": "cell", "type": "nominal", "axis": null},
                "text": {"field": "cell", "type": "nominal"}}},
             {"transform": [{"filter": "datum.drug === 'Neratinib' && datum.cell === 'AU-565'"}],
              "mark": {"type": "text", "opacity": 0},
              "encoding": {
                "x": {"datum": "line", "type": "nominal", "axis": {"orient": "top", "offset": -31, "title": null, "ticks": false, "labels": false, "domainWidth": 1}},
                "y": {"field": "cell", "type": "nominal", "axis": null},
                "text": {"field": "cell", "type": "nominal"}}},
             {"transform": [{"filter": "datum.drug === 'Neratinib' && datum.cell === 'AU-565'"}],
              "mark": {"type": "text", "opacity": 0},
              "encoding": {
                "x": {"datum": "line", "type": "nominal", "axis": {"orient": "bottom", "offset": 0, "title": null, "ticks": false, "labels": false, "domainWidth": 1.2}},
                "y": {"field": "cell", "type": "nominal", "axis": null},
                "text": {"field": "cell", "type": "nominal"}}},
             {"transform": [{"filter": "datum.drug === 'Neratinib' && datum.cell === 'AU-565'"}],
              "mark": {"type": "text", "opacity": 0},
              "encoding": {
                "x": {"datum": "line", "type": "nominal", "axis": {"orient": "bottom", "offset": -3.5, "title": null, "ticks": false, "labels": false, "domainWidth": 1.2}},
                "y": {"field": "cell", "type": "nominal", "axis": null},
                "text": {"field": "cell", "type": "nominal"}}}
           ]}
        ]}
      ]}
    ]
  },
  {
    "width": 620, "height": 1,
    "data": {"name": "drugs"},
    "mark": {"type": "point", "filled": true, "size": 0, "opacity": 1},
    "encoding": {
      "fill": {"field": "drug", "type": "nominal", "scale": {"domain": ["Neratinib", "Lapatinib", "Tucatinib"], "range": ["#4472C4", "#ED7D31", "#70AD47"]},
        "legend": {"orient": "none", "legendX": 155.5, "legendY": 8.5, "direction": "horizontal", "title": null, "symbolSize": 225, "symbolStrokeWidth": 2.2, "symbolOpacity": 1, "labelFontSize": 12.5, "columnPadding": 68, "labelOffset": 11.5}},
      "stroke": {"field": "drug", "type": "nominal", "scale": {"domain": ["Neratinib", "Lapatinib", "Tucatinib"], "range": ["#4472C4", "#ED7D31", "#70AD47"]},
        "legend": {"orient": "none", "legendX": 155.5, "legendY": 8.5, "direction": "horizontal", "title": null, "symbolSize": 225, "symbolStrokeWidth": 2.2, "symbolOpacity": 1, "labelFontSize": 12.5, "columnPadding": 68, "labelOffset": 11.5}},
      "shape": {"field": "drug", "type": "nominal", "scale": {"domain": ["Neratinib", "Lapatinib", "Tucatinib"], "range": ["M-2,0H2M-0.6,0A0.6,0.6 0 1,1 0.6,0A0.6,0.6 0 1,1 -0.6,0Z", "M-2,0H2M0,-0.72L0.66,0.48H-0.66Z", "M-2,0H2M0,-0.56L0.56,0L0,0.56L-0.56,0Z"]},
        "legend": {"orient": "none", "legendX": 155.5, "legendY": 8.5, "direction": "horizontal", "title": null, "symbolSize": 225, "symbolStrokeWidth": 2.2, "symbolOpacity": 1, "labelFontSize": 12.5, "columnPadding": 68, "labelOffset": 11.5}}
    }
  }
]
}
